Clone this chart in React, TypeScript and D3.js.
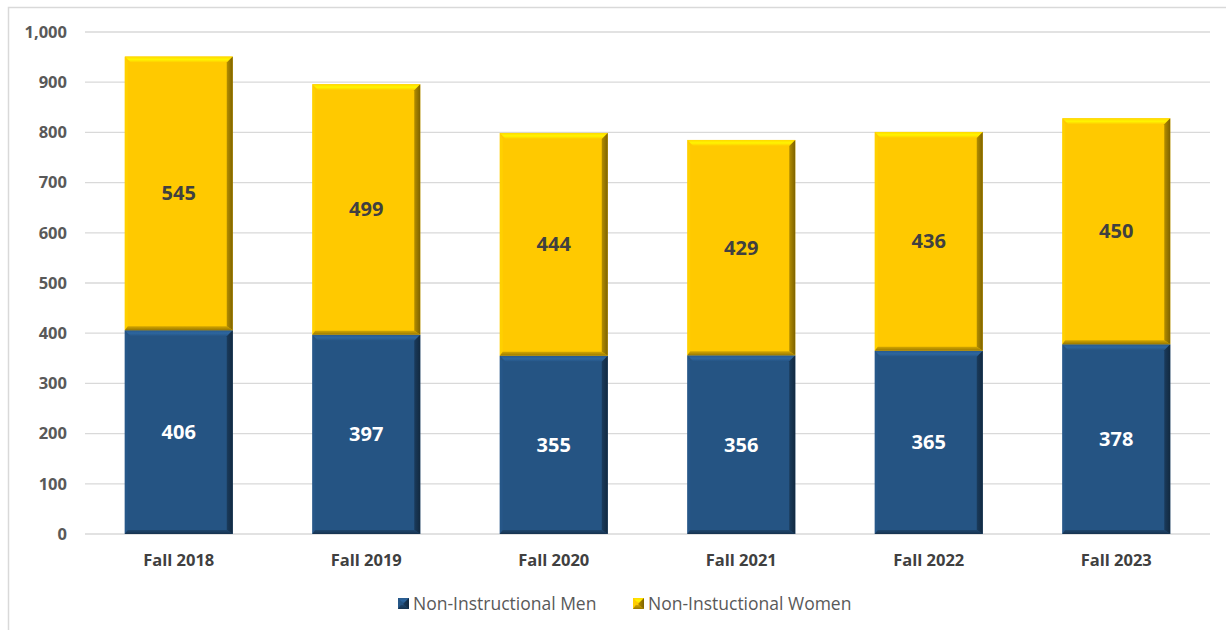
import React from "react";
import * as d3 from "d3";

const categories = ["Fall 2018", "Fall 2019", "Fall 2020", "Fall 2021", "Fall 2022", "Fall 2023"];
const menValues = [406, 397, 355, 356, 365, 378];
const womenValues = [545, 499, 444, 429, 436, 450];
const yTicks = [0, 100, 200, 300, 400, 500, 600, 700, 800, 900, 1000];
const seriesNames = ["Non-Instructional Men", "Non-Instuctional Women"];

const W = 1226, H = 630;
const FONT = "'Open Sans', Lato, sans-serif";
const NAVY = "#255483";
const GOLD = "#FFC900";

function Bevel({ x, y, w, h, color, id }: { x: number; y: number; w: number; h: number; color: string; id: string }) {
  const b = Math.min(6, h / 2);
  const bb = Math.min(4, h / 2);
  const light = d3.color(color)!.brighter(0.55).formatHex();
  const lighter = d3.color(color)!.brighter(0.2).formatHex();
  const dark = d3.color(color)!.darker(1.0).formatHex();
  const darker = d3.color(color)!.darker(2.0).formatHex();
  return (
    <g>
      <rect x={x} y={y} width={w} height={h} fill={color} />
      <polygon points={`${x},${y} ${x + w},${y} ${x + w - b},${y + b} ${x + b},${y + b}`} fill={`url(#top-${id})`} />
      <polygon points={`${x},${y} ${x + b * 0.5},${y + b} ${x + b * 0.5},${y + h - bb} ${x},${y + h}`} fill={lighter} opacity={0.5} />
      <polygon points={`${x + w},${y} ${x + w},${y + h} ${x + w - b},${y + h - bb} ${x + w - b},${y + b}`} fill={`url(#right-${id})`} />
      <polygon points={`${x},${y + h} ${x + w},${y + h} ${x + w - b},${y + h - bb} ${x + b * 0.5},${y + h - bb}`} fill={`url(#bot-${id})`} />
      <defs>
        <linearGradient id={`top-${id}`} x1="0" y1="0" x2="0" y2="1">
          <stop offset="0" stopColor={lighter} />
          <stop offset="0.5" stopColor={light} />
          <stop offset="1" stopColor={color} />
        </linearGradient>
        <linearGradient id={`right-${id}`} x1="0" y1="0" x2="1" y2="0">
          <stop offset="0" stopColor={dark} />
          <stop offset="1" stopColor={darker} />
        </linearGradient>
        <linearGradient id={`bot-${id}`} x1="0" y1="0" x2="0" y2="1">
          <stop offset="0" stopColor={dark} stopOpacity={0.6} />
          <stop offset="1" stopColor={darker} stopOpacity={0.8} />
        </linearGradient>
      </defs>
    </g>
  );
}

export default function App() {
  const left = 85, right = 1210, top = 32, bottom = 534;
  const x = d3.scaleBand<string>().domain(categories).range([left, right]).paddingInner(0.424).paddingOuter(0.212);
  const y = d3.scaleLinear().domain([0, 1000]).range([bottom, top]);
  const fmt = d3.format(",");
  return (
    <svg width={W} height={H} style={{ position: "absolute", left: 0, top: 0 }} fontFamily={FONT}>
      <rect x={0} y={0} width={W} height={H} fill="#fff" />
      <path d={`M8.5,${H} V7.5 H${W}`} fill="none" stroke="#d9d9d9" strokeWidth={1.5} />
      {yTicks.map((t) => (
        <g key={t}>
          <line x1={left} x2={right} y1={y(t)} y2={y(t)} stroke="#d9d9d9" strokeWidth={1.3} />
          <text x={67} y={y(t)} dy="0.35em" textAnchor="end" fontSize={16.5} fontWeight="bold" fill="#595959">{fmt(t)}</text>
        </g>
      ))}
      {categories.map((c, i) => {
        const bx = x(c)!, bw = x.bandwidth();
        const m = menValues[i], wv = womenValues[i];
        const yM = y(m), yT = y(m + wv);
        return (
          <g key={c}>
            <Bevel x={bx} y={yM} w={bw} h={bottom - yM} color={NAVY} id={`m${i}`} />
            <Bevel x={bx} y={yT} w={bw} h={yM - yT} color={GOLD} id={`w${i}`} />
            <text x={bx + bw / 2} y={(yM + bottom) / 2} dy="0.35em" textAnchor="middle" fontSize={20} fontWeight="bold" fill="#fff">{m}</text>
            <text x={bx + bw / 2} y={(yT + yM) / 2} dy="0.35em" textAnchor="middle" fontSize={20} fontWeight="bold" fill="#404040">{wv}</text>
            <text x={bx + bw / 2} y={560} dy="0.35em" textAnchor="middle" fontSize={16.5} fontWeight="bold" fill="#404040">{c}</text>
          </g>
        );
      })}
      <g>
        <Bevel x={398} y={598} w={11} h={11} color={NAVY} id="lg0" />
        <text x={413} y={604} dy="0.35em" fontSize={17.5} fill="#595959">{seriesNames[0]}</text>
        <Bevel x={633} y={598} w={11} h={11} color={GOLD} id="lg1" />
        <text x={648} y={604} dy="0.35em" fontSize={17.5} fill="#595959">{seriesNames[1]}</text>
      </g>
    </svg>
  );
}
